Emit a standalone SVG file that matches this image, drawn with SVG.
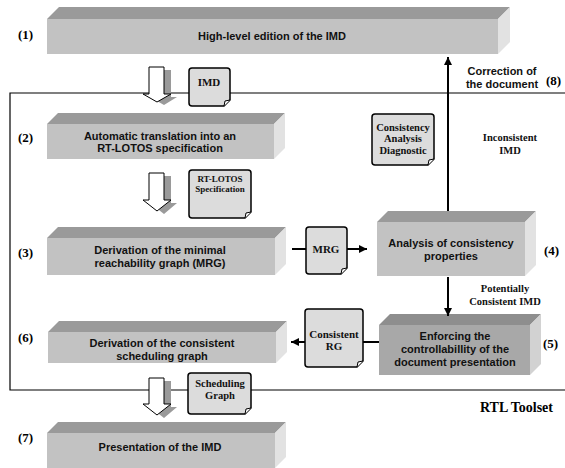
<svg xmlns="http://www.w3.org/2000/svg" width="565" height="468" viewBox="0 0 565 468">
<defs>
<marker id="ah" viewBox="0 0 10 10" refX="10" refY="5" markerWidth="4" markerHeight="4" orient="auto" markerUnits="strokeWidth">
<path d="M0,0 L10,5 L0,10 Z" fill="#000"/>
</marker>
</defs>
<style>
.front{fill:#c2c2c2}
.top{fill:#9a9a9a}
.side{fill:#e2e2e2}
.front5{fill:#a8a8a8}
.top5{fill:#8e8e8e}
.side5{fill:#d2d2d2}
.bt{font-family:"Liberation Sans",Arial,sans-serif;font-weight:bold;font-size:11px;fill:#111;text-anchor:middle}
.num{font-family:"Liberation Serif","Times New Roman",serif;font-weight:bold;font-size:13px;fill:#000}
.sl{font-family:"Liberation Serif","Times New Roman",serif;font-weight:bold;font-size:10.5px;fill:#111;text-anchor:middle}
.doc{fill:#dcdcdc;stroke:#000;stroke-width:1.5}
.fold{fill:#fff;stroke:#000;stroke-width:1}
.frame{stroke:#000;stroke-width:1.2;fill:none}
.conn{stroke:#000;stroke-width:2;fill:none}
.harrow{fill:#fff;stroke:#000;stroke-width:1}
.hshadow{fill:#9a9a9a}
</style>
<rect width="565" height="468" fill="#fff"/>

<!-- toolset frame -->
<g id="toolset">
<path class="frame" d="M565,93 H10 V390 H565"/>
<text x="553" y="412" class="num" style="font-size:14px" text-anchor="end">RTL Toolset</text>
</g>

<!-- box 1 -->
<g id="n1">
<polygon class="top" points="47,19 59,7 510,7 498,19"/>
<polygon class="side" points="498,19 510,7 510,42 498,54"/>
<rect class="front" x="47" y="19" width="451" height="35"/>
<text class="bt" x="272" y="40">High-level edition of the IMD</text>
<text class="num" x="18" y="39">(1)</text>
</g>

<!-- box 2 -->
<g id="n2">
<polygon class="top" points="47,124 58,113 285,113 274,124"/>
<polygon class="side" points="274,124 285,113 285,148 274,159"/>
<rect class="front" x="47" y="124" width="227" height="35"/>
<text class="bt" x="160" y="140">Automatic translation into an</text>
<text class="bt" x="160" y="152">RT-LOTOS specification</text>
<text class="num" x="18" y="142">(2)</text>
</g>

<!-- box 3 -->
<g id="n3">
<polygon class="top" points="47,238 58,227 286,227 275,238"/>
<polygon class="side" points="275,238 286,227 286,264 275,275"/>
<rect class="front" x="47" y="238" width="228" height="37"/>
<text class="bt" x="160" y="254">Derivation of the minimal</text>
<text class="bt" x="160" y="267">reachability graph (MRG)</text>
<text class="num" x="18" y="257">(3)</text>
</g>

<!-- box 4 -->
<g id="n4">
<polygon class="top" points="377,222 388,211 536,211 525,222"/>
<polygon class="side" points="525,222 536,211 536,265 525,276"/>
<rect class="front" x="377" y="222" width="148" height="54"/>
<text class="bt" x="451" y="247">Analysis of consistency</text>
<text class="bt" x="451" y="260">properties</text>
<text class="num" x="544" y="255">(4)</text>
</g>

<!-- box 5 -->
<g id="n5">
<polygon class="top5" points="379,325 390,314 541,314 530,325"/>
<polygon class="side5" points="530,325 541,314 541,364 530,375"/>
<rect class="front5" x="379" y="325" width="151" height="50"/>
<text class="bt" x="455" y="340">Enforcing the</text>
<text class="bt" x="455" y="353">controllabillity of the</text>
<text class="bt" x="455" y="366">document presentation</text>
<text class="num" x="543" y="348">(5)</text>
</g>

<!-- box 6 -->
<g id="n6">
<polygon class="top" points="48,332 59,321 287,321 276,332"/>
<polygon class="side" points="276,332 287,321 287,352 276,363"/>
<rect class="front" x="48" y="332" width="228" height="31"/>
<text class="bt" x="162" y="347">Derivation of the consistent</text>
<text class="bt" x="162" y="360">scheduling graph</text>
<text class="num" x="18" y="342">(6)</text>
</g>

<!-- box 7 -->
<g id="n7">
<polygon class="top" points="47,433 58,422 286,422 275,433"/>
<polygon class="side" points="275,433 286,422 286,457 275,468"/>
<rect class="front" x="47" y="433" width="228" height="35"/>
<text class="bt" x="160" y="451">Presentation of the IMD</text>
<text class="num" x="18" y="442">(7)</text>
</g>

<!-- hollow flow arrows -->
<g id="flow-arrows">
<path class="hshadow" d="M156,70 H171 V97 H177 L164,105 L150,97 H156 Z"/>
<path class="harrow" d="M149,67 H164 V94 H171 L157,102 L143,94 H149 Z"/>
<path class="hshadow" d="M156,176 H171 V203 H177 L164,214 L150,203 H156 Z"/>
<path class="harrow" d="M149,173 H164 V200 H171 L157,211 L143,200 H149 Z"/>
<path class="hshadow" d="M156,381 H171 V407 H177 L164,418 L150,407 H156 Z"/>
<path class="harrow" d="M149,378 H164 V404 H171 L157,415 L143,404 H149 Z"/>
</g>

<!-- connectors -->
<g id="connectors">
<line class="conn" x1="448" y1="211" x2="448" y2="57" marker-end="url(#ah)"/>
<line class="conn" x1="448" y1="277" x2="448" y2="316" marker-end="url(#ah)"/>
<line class="conn" x1="292" y1="249" x2="306" y2="249"/>
<line class="conn" x1="347" y1="249" x2="367" y2="249" marker-end="url(#ah)"/>
<line class="conn" x1="379" y1="342" x2="363" y2="342"/>
<line class="conn" x1="305" y1="342" x2="291" y2="342" marker-end="url(#ah)"/>
</g>

<!-- document icons -->
<g id="doc-imd">
<path class="doc" d="M192,68 H227 Q230,68 230,71 V100 L224,106 H192 Q189,106 189,103 V71 Q189,68 192,68 Z"/>
<path class="fold" d="M224,106 L225,101 L230,100"/>
<text class="sl" x="209" y="86" style="font-size:11px">IMD</text>
</g>
<g id="doc-rtlotos">
<path class="doc" d="M192,170 H248 Q251,170 251,173 V212 L245,218 H192 Q189,218 189,215 V173 Q189,170 192,170 Z"/>
<path class="fold" d="M245,218 L246,213 L251,212"/>
<text class="sl" x="220" y="182" style="font-size:9px">RT-LOTOS</text>
<text class="sl" x="220" y="192" style="font-size:9px">Specification</text>
</g>
<g id="doc-diag">
<path class="doc" d="M375,114 H431 Q434,114 434,117 V159 L428,165 H375 Q372,165 372,162 V117 Q372,114 375,114 Z"/>
<path class="fold" d="M428,165 L429,160 L434,159"/>
<text class="sl" x="403" y="131">Consistency</text>
<text class="sl" x="403" y="142">Analysis</text>
<text class="sl" x="403" y="154">Diagnostic</text>
</g>
<g id="doc-mrg">
<path class="doc" d="M309,227 H344 Q347,227 347,230 V268 L341,274 H309 Q306,274 306,271 V230 Q306,227 309,227 Z"/>
<path class="fold" d="M341,274 L342,269 L347,268"/>
<text class="sl" x="326" y="253" style="font-size:11px">MRG</text>
</g>
<g id="doc-crg">
<path class="doc" d="M308,309 H360 Q363,309 363,312 V361 L357,367 H308 Q305,367 305,364 V312 Q305,309 308,309 Z"/>
<path class="fold" d="M357,367 L358,362 L363,361"/>
<text class="sl" x="334" y="338" style="font-size:11px">Consistent</text>
<text class="sl" x="334" y="350" style="font-size:11px">RG</text>
</g>
<g id="doc-sched">
<path class="doc" d="M191,373 H248 Q251,373 251,376 V408 L245,414 H191 Q188,414 188,411 V376 Q188,373 191,373 Z"/>
<path class="fold" d="M245,414 L246,409 L251,408"/>
<text class="sl" x="220" y="387">Scheduling</text>
<text class="sl" x="220" y="399">Graph</text>
</g>

<!-- free labels -->
<g id="labels">
<text class="bt" x="502" y="75">Correction of</text>
<text class="bt" x="502" y="88">the document</text>
<text class="num" x="546" y="85">(8)</text>
<text class="sl" x="510" y="141">Inconsistent</text>
<text class="sl" x="510" y="154">IMD</text>
<text class="sl" x="505" y="292">Potentially</text>
<text class="sl" x="505" y="305">Consistent IMD</text>
</g>
</svg>
